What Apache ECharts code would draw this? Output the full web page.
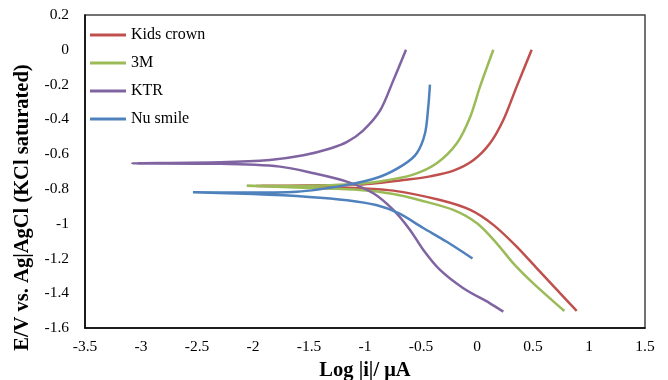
<!DOCTYPE html>
<html>
<head>
<meta charset="utf-8">
<script src="https://cdn.jsdelivr.net/npm/echarts@6/dist/echarts.min.js"></script>
<style>html,body{margin:0;padding:0;background:#fff;}#c{width:668px;height:380px;}</style>
</head>
<body>
<div id="c"></div>
<script>
var seriesNames = ['Kids crown', '3M', 'KTR', 'Nu smile'];
var seriesColors = ['#C0504D', '#9BBB59', '#8064A2', '#4F81BD'];

// [log|i|, E] pairs: cathodic end -> corrosion point -> anodic end
var kidsCrown = [
  [0.89, -1.502], [0.712, -1.379], [0.533, -1.256], [0.354, -1.132], [0.146, -1.007],
  [-0.06, -0.921], [-0.33, -0.864], [-0.747, -0.810], [-1.05, -0.796],
  [-1.49, -0.787], [-1.98, -0.783],
  [-1.55, -0.780], [-1.05, -0.775], [-0.60, -0.745], [-0.42, -0.728], [-0.21, -0.695],
  [-0.03, -0.634], [0.116, -0.538], [0.235, -0.404], [0.354, -0.212], [0.488, 0.0]
];
var threeM = [
  [0.78, -1.502], [0.503, -1.343], [0.324, -1.228], [0.176, -1.113], [0.0, -0.998],
  [-0.212, -0.921], [-0.509, -0.865], [-0.747, -0.829], [-1.045, -0.806], [-1.49, -0.795],
  [-2.056, -0.782],
  [-1.58, -0.783], [-1.16, -0.775], [-0.87, -0.757], [-0.57, -0.718], [-0.36, -0.653],
  [-0.18, -0.538], [-0.06, -0.385], [0.027, -0.212], [0.146, 0.0]
];
var ktr = [
  [0.235, -1.506], [0.116, -1.458], [-0.122, -1.371], [-0.33, -1.266], [-0.479, -1.151],
  [-0.598, -1.036], [-0.747, -0.921], [-0.926, -0.825], [-1.163, -0.758], [-1.46, -0.710],
  [-1.76, -0.672], [-2.29, -0.656], [-3.08, -0.653],
  [-2.29, -0.647], [-1.85, -0.634], [-1.55, -0.607], [-1.31, -0.568], [-1.16, -0.530],
  [-1.015, -0.463], [-0.866, -0.350], [-0.747, -0.176], [-0.634, 0.0]
];
var nuSmile = [
  [-0.04, -1.20], [-0.27, -1.104], [-0.48, -1.025], [-0.70, -0.940], [-0.90, -0.893],
  [-1.16, -0.865], [-1.5, -0.846], [-2.0, -0.830], [-2.536, -0.820],
  [-2.1, -0.821], [-1.61, -0.816], [-1.163, -0.777], [-0.866, -0.730],
  [-0.658, -0.662], [-0.538, -0.595], [-0.464, -0.480], [-0.435, -0.327], [-0.42, -0.20]
];
var seriesData = [kidsCrown, threeM, ktr, nuSmile];

var xMin = -3.5, xMax = 1.5, xStep = 0.5;
var yMin = -1.6, yMax = 0.2, yStep = 0.2;

var font = 'Liberation Serif';
var chart = echarts.init(document.getElementById('c'), null, {renderer: 'canvas'});
chart.setOption({
  animation: false,
  backgroundColor: '#fff',
  grid: {left: 85, top: 15, right: 23, bottom: 52, outerBoundsMode: 'none', containLabel: false,
         show: true, borderColor: '#444', borderWidth: 1.5, backgroundColor: 'transparent'},
  legend: {
    left: 85, top: 22, orient: 'vertical', itemWidth: 36, itemHeight: 3, itemGap: 12,
    icon: 'rect',
    textStyle: {fontFamily: font, fontSize: 16, color: '#000'},
    data: seriesNames
  },
  xAxis: {
    type: 'value', min: xMin, max: xMax, interval: xStep,
    name: 'Log |i|/ μA', nameLocation: 'middle', nameGap: 31,
    nameTextStyle: {fontFamily: font, fontSize: 20.5, fontWeight: 'bold', color: '#000'},
    axisLine: {show: true, onZero: false, lineStyle: {color: '#000', width: 1.5}},
    axisTick: {show: false},
    splitLine: {show: false},
    axisLabel: {fontFamily: font, fontSize: 15.5, color: '#000', margin: 11}
  },
  yAxis: {
    type: 'value', min: yMin, max: yMax, interval: yStep,
    name: 'E/V vs. Ag|AgCl (KCl saturated)', nameLocation: 'middle', nameGap: 52,
    nameTextStyle: {fontFamily: font, fontSize: 20.5, fontWeight: 'bold', color: '#000', padding: [0, 72, 0, 0]},
    axisLine: {show: true, onZero: false, lineStyle: {color: '#000', width: 1.5}},
    axisTick: {show: false},
    splitLine: {show: false},
    axisLabel: {fontFamily: font, fontSize: 15.5, color: '#000', margin: 16}
  },
  series: seriesData.map(function (d, i) {
    return {
      name: seriesNames[i], type: 'line', data: d, smooth: 0.3,
      showSymbol: false, symbol: 'none',
      lineStyle: {color: seriesColors[i], width: 2.5},
      itemStyle: {color: seriesColors[i]}
    };
  })
});
</script>
</body>
</html>
